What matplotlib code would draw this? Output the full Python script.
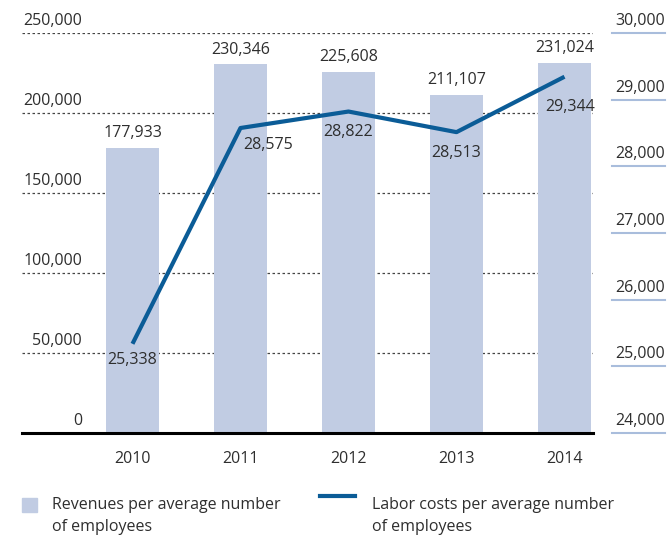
import numpy as np
import matplotlib.pyplot as plt
from matplotlib.patches import Rectangle
from matplotlib.lines import Line2D
import matplotlib.transforms as mtransforms

plt.rcParams['font.family'] = ['Open Sans', 'DejaVu Sans']

years = ['2010', '2011', '2012', '2013', '2014']
revenues = [177933, 230346, 225608, 211107, 231024]
labor_costs = [25338, 28575, 28822, 28513, 29344]

left_ticks = [0, 50000, 100000, 150000, 200000, 250000]
right_ticks = [24000, 25000, 26000, 27000, 28000, 29000, 30000]

# offsets (points) of the labels on the line
line_label_offsets = [(0, -12), (20, -12), (0, -15), (0, -15), (4, -22)]

bar_color = '#c1cce3'
line_color = '#0b5c97'
text_color = '#2e2e2e'
fs = 11.5
W, H = 667, 536

fig = plt.figure(figsize=(W / 100, H / 100), dpi=100)
ax = fig.add_axes([22 / W, (H - 433) / H, 571 / W, 400 / H])
x = np.arange(len(years))

ax.set_xlim(-1.023, 4.264)
ax.set_ylim(0, 250000)

# dotted grid, hidden behind the bars
for v in left_ticks[1:]:
    ax.axhline(v, color='#444444', lw=0.9, linestyle=(0, (2, 2)), zorder=1)
ax.axhline(0, color='black', lw=2.2, zorder=4, clip_on=False)

ax.bar(x, revenues, width=0.49, color=bar_color, zorder=2)
for xi, v in zip(x, revenues):
    ax.annotate(f'{v:,}', xy=(xi, v), xytext=(0, 5), textcoords='offset points',
                ha='center', va='bottom', fontsize=fs, color=text_color)

for v in left_ticks:
    ax.annotate(f'{v:,}', xy=(0.105, v), xycoords=('axes fraction', 'data'),
                xytext=(0, 3), textcoords='offset points',
                ha='right', va='bottom', fontsize=fs, color=text_color)

ax.set_xticks(x)
ax.set_xticklabels(years, fontsize=fs, color=text_color)
ax.tick_params(axis='x', length=0, pad=13)
ax.set_yticks([])
for s in ax.spines.values():
    s.set_visible(False)

ax2 = ax.twinx()
ax2.set_ylim(24000, 30000)
ax2.set_yticks([])
for s in ax2.spines.values():
    s.set_visible(False)

ax2.plot(x, labor_costs, color=line_color, lw=3, zorder=5, solid_capstyle='butt')
for xi, v, off in zip(x, labor_costs, line_label_offsets):
    ax2.annotate(f'{v:,}', xy=(xi, v), xytext=off, textcoords='offset points',
                 ha='center', va='center', fontsize=fs, color=text_color)

# right-hand scale with short underlines
tr = mtransforms.blended_transform_factory(fig.transFigure, ax2.transData)
for v in right_ticks:
    ax2.plot([612 / W, 665 / W], [v, v], transform=tr, color='#a9bddc',
             lw=1.5, clip_on=False)
    ax2.annotate(f'{v:,}', xy=(665 / W, v), xycoords=('figure fraction', 'data'),
                 xytext=(0, 3), textcoords='offset points',
                 ha='right', va='bottom', fontsize=fs, color=text_color)

# legend
fig.patches.append(Rectangle((22 / W, 1 - 512 / H), 15 / W, 14 / H,
                             transform=fig.transFigure, color=bar_color))
fig.text(52 / W, 1 - 516 / H, 'Revenues per average number\nof employees',
         fontsize=fs, color=text_color, va='center', ha='left', linespacing=1.45)
fig.lines.append(Line2D([320 / W, 355 / W], [1 - 496 / H, 1 - 496 / H],
                        transform=fig.transFigure, color=line_color, lw=3))
fig.text(372 / W, 1 - 516 / H, 'Labor costs per average number\nof employees',
         fontsize=fs, color=text_color, va='center', ha='left', linespacing=1.45)

fig.savefig('out.png', dpi=100)
